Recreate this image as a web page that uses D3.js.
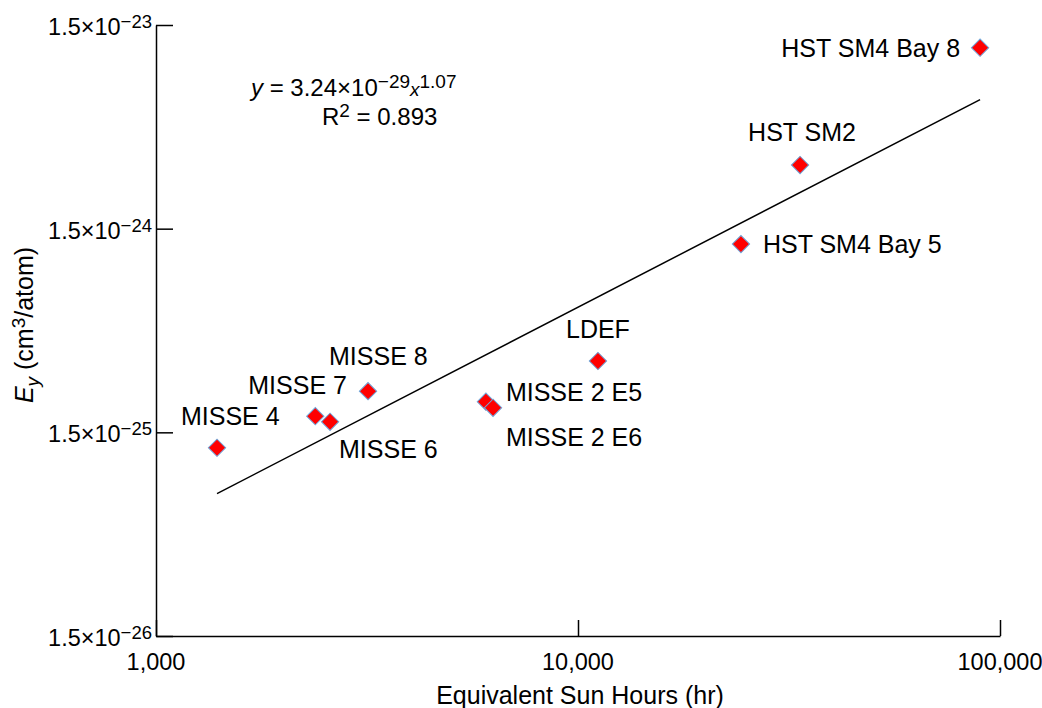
<!DOCTYPE html>
<html>
<head>
<meta charset="utf-8">
<script src="https://cdn.jsdelivr.net/npm/d3@7"></script>
<style>
  body { margin: 0; background: #fff; }
  svg { display: block; font-family: "Liberation Sans", Arial, sans-serif; }
</style>
</head>
<body>
<div id="chart"></div>
<script>
// data
var missions = ["MISSE 4", "MISSE 7", "MISSE 6", "MISSE 8", "MISSE 2 E5", "MISSE 2 E6",
                "LDEF", "HST SM4 Bay 5", "HST SM2", "HST SM4 Bay 8"]
var sunHours = [1395, 2385, 2585, 3180, 6050, 6290, 11150, 24330, 33590, 89700]
var erosionYield = [1.26e-25, 1.80e-25, 1.69e-25, 2.39e-25, 2.12e-25, 1.98e-25,
                    3.36e-25, 1.26e-24, 3.08e-24, 1.16e-23]
var xTicks = [1000, 10000, 100000]
var yTicks = [1.5e-26, 1.5e-25, 1.5e-24, 1.5e-23]
// power-law fit shown on the chart
var fitA = 3.24e-29, fitB = 1.07, fitR2 = 0.893

// label placement (text anchor, offset from the point)
var labelAnchor = ["start", "start", "start", "start", "start", "start", "middle", "start", "middle", "end"]
var labelDx = [-36, -67, 9, -39, 20, 13, 0, 22, 2, -20]
var labelDy = [-23, -22, 36, -26, -1, 38, -23, 9, -24, 9]

var width = 1042, height = 708
var margin = {top: 25, right: 42, bottom: 72, left: 156}

var svg = d3.select("#chart").append("svg")
    .attr("width", width)
    .attr("height", height)

var x = d3.scaleLog().domain([1000, 100000]).range([margin.left, width - margin.right])
var y = d3.scaleLog().domain([1.5e-26, 1.5e-23]).range([height - margin.bottom, margin.top])

// axes, ticks pointing inward
var xAxis = svg.append("g")
    .attr("transform", "translate(0," + (height - margin.bottom) + ")")
    .call(d3.axisBottom(x).tickValues(xTicks).tickSizeInner(-16).tickSizeOuter(0).tickFormat(""))
var yAxis = svg.append("g")
    .attr("transform", "translate(" + margin.left + ",0)")
    .call(d3.axisLeft(y).tickValues(yTicks).tickSizeInner(-17).tickSizeOuter(0).tickFormat(""))
svg.selectAll(".domain, .tick line").attr("stroke", "#000").attr("stroke-width", 1.5)

// x tick labels
svg.append("g").selectAll("text")
    .data(xTicks)
  .enter().append("text")
    .attr("x", function(d) { return x(d) })
    .attr("y", height - margin.bottom + 34)
    .attr("text-anchor", "middle")
    .style("font-size", "23.5px")
    .text(function(d) { return d3.format(",")(d) })

// y tick labels: 1.5x10^n
var yLab = svg.append("g").selectAll("text")
    .data(yTicks)
  .enter().append("text")
    .attr("x", margin.left - 4)
    .attr("y", function(d) { return y(d) + 10 })
    .attr("text-anchor", "end")
    .style("font-size", "23.5px")
yLab.append("tspan").text("1.5\u00d710")
yLab.append("tspan")
    .attr("dy", -7)
    .style("font-size", "18.5px")
    .text(function(d) { return "\u2212" + Math.abs(Math.round(Math.log10(d / 1.5))) })

// fit line over the range of the data
var xr = d3.extent(sunHours)
var fitPts = [xr[0], xr[1]].map(function(v) { return [v, fitA * Math.pow(v, fitB)] })
svg.append("path")
    .datum(fitPts)
    .attr("fill", "none")
    .attr("stroke", "#000")
    .attr("stroke-width", 1.5)
    .attr("d", d3.line().x(function(d) { return x(d[0]) }).y(function(d) { return y(d[1]) }))

// points
var pts = missions.map(function(m, i) { return {name: m, x: sunHours[i], y: erosionYield[i], i: i} })
svg.append("g").selectAll("path")
    .data(pts)
  .enter().append("path")
    .attr("d", d3.symbol().type(d3.symbolSquare).size(150))
    .attr("transform", function(d) { return "translate(" + x(d.x) + "," + y(d.y) + ") rotate(45)" })
    .attr("fill", "#ff0000")
    .attr("stroke", "#6fa8dc")
    .attr("stroke-width", 1)

svg.append("g").selectAll("text")
    .data(pts)
  .enter().append("text")
    .attr("x", function(d) { return x(d.x) + labelDx[d.i] })
    .attr("y", function(d) { return y(d.y) + labelDy[d.i] })
    .attr("text-anchor", function(d) { return labelAnchor[d.i] })
    .style("font-size", "25px")
    .text(function(d) { return d.name })

// fit equation
var eq = svg.append("text")
    .attr("x", 251).attr("y", 96)
    .style("font-size", "24px")
eq.append("tspan").style("font-style", "italic").text("y")
eq.append("tspan").text(" = 3.24\u00d710")
eq.append("tspan").attr("dy", -8).style("font-size", "19px").text("\u221229")
eq.append("tspan").attr("dy", 8).style("font-size", "19px").style("font-style", "italic").text("x")
eq.append("tspan").attr("dy", -8).style("font-size", "19px").text("1.07")

var r2 = svg.append("text")
    .attr("x", 322).attr("y", 125)
    .style("font-size", "24px")
r2.append("tspan").text("R")
r2.append("tspan").attr("dy", -8).style("font-size", "19px").text("2")
r2.append("tspan").attr("dy", 8).text(" = " + fitR2)

// axis titles
svg.append("text")
    .attr("x", 580)
    .attr("y", 704)
    .attr("text-anchor", "middle")
    .style("font-size", "25px")
    .text("Equivalent Sun Hours (hr)")

var yt = svg.append("text")
    .attr("transform", "translate(33,325) rotate(-90)")
    .attr("text-anchor", "middle")
    .style("font-size", "25px")
yt.append("tspan").style("font-style", "italic").text("E")
yt.append("tspan").attr("dy", 6).style("font-size", "19px").style("font-style", "italic").text("y")
yt.append("tspan").attr("dy", -6).text(" (cm")
yt.append("tspan").attr("dy", -8).style("font-size", "19px").text("3")
yt.append("tspan").attr("dy", 8).text("/atom)")
</script>
</body>
</html>
